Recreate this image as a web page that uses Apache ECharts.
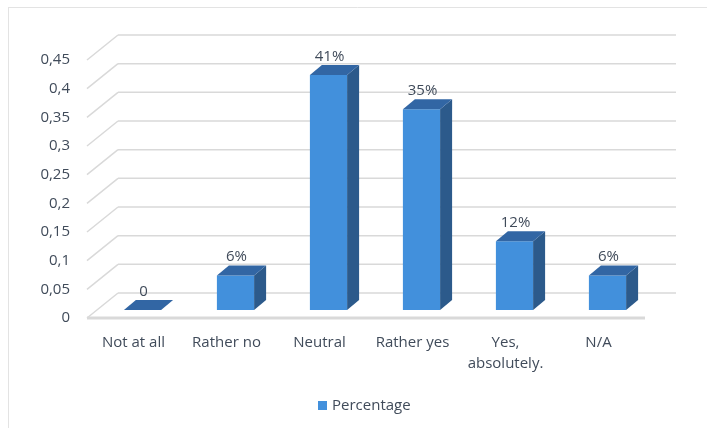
<!DOCTYPE html>
<html>
<head>
<meta charset="utf-8">
<title>Percentage</title>
<script src="https://cdn.jsdelivr.net/npm/echarts@6/dist/echarts.min.js"></script>
<style>
  html, body { margin: 0; padding: 0; background: #fff; }
  #chart { width: 707px; height: 428px; }
</style>
</head>
<body>
<div id="chart"></div>
<script>
// data
var categories = ['Not at all', 'Rather no', 'Neutral', 'Rather yes', 'Yes,\nabsolutely.', 'N/A'];
var values = [0, 0.06, 0.41, 0.35, 0.12, 0.06];
var valueLabels = ['0', '6%', '41%', '35%', '12%', '6%'];
var yTicks = [0, 0.05, 0.1, 0.15, 0.2, 0.25, 0.3, 0.35, 0.4, 0.45];

// 3d look (pixel offsets)
var WALL_DX = 31, WALL_DY = -25;   // depth of the back wall
var BAR_DX = 9, BAR_DY = -8;       // bar front face pushed back
var BAR_DEPTH_X = 12, BAR_DEPTH_Y = -10;

var font = 'Open Sans';
var fontSize = 15;
var textColor = '#404b5a';
var gridColor = '#d9d9d9';
var frontColor = '#4290dc';
var topColor = '#3266a4';
var sideColor = '#2c5a8b';

var chart = echarts.init(document.getElementById('chart'));

function renderWall(params, api) {
    var cs = params.coordSys;
    var v = api.value(1);
    var y = api.coord([0, v])[1];
    var x0 = cs.x, x1 = cs.x + cs.width;
    var children = [
        { type: 'line', shape: { x1: x0, y1: y, x2: x0 + WALL_DX, y2: y + WALL_DY },
          style: { stroke: gridColor, lineWidth: 1.5 } },
        { type: 'line', shape: { x1: x0 + WALL_DX, y1: y + WALL_DY, x2: x1 + WALL_DX, y2: y + WALL_DY },
          style: { stroke: gridColor, lineWidth: 1.5 } }
    ];
    if (v === 0) {
        // floor front edge
        children.push({ type: 'line', shape: { x1: x0, y1: y, x2: x1, y2: y },
            style: { stroke: gridColor, lineWidth: 3 } });
    }
    return { type: 'group', children: children };
}

function renderBar(params, api) {
    var i = api.value(0);
    var base = api.coord([i, 0]);
    var top = api.coord([i, api.value(1)]);
    var w = api.size([1, 0])[0] * 0.4;
    var xl = base[0] - w / 2 + BAR_DX;
    var xr = xl + w;
    var yb = base[1] + BAR_DY;
    var yt = top[1] + BAR_DY;
    var children = [];
    if (yb - yt > 0.5) {
        children.push({ type: 'rect', shape: { x: xl, y: yt, width: w, height: yb - yt },
            style: { fill: frontColor } });
        children.push({ type: 'polygon', shape: { points: [
            [xr, yt], [xr + BAR_DEPTH_X, yt + BAR_DEPTH_Y],
            [xr + BAR_DEPTH_X, yb + BAR_DEPTH_Y], [xr, yb]] },
            style: { fill: sideColor } });
    }
    children.push({ type: 'polygon', shape: { points: [
        [xl, yt], [xl + BAR_DEPTH_X, yt + BAR_DEPTH_Y],
        [xr + BAR_DEPTH_X, yt + BAR_DEPTH_Y], [xr, yt]] },
        style: { fill: topColor } });
    children.push({ type: 'text', style: {
        text: valueLabels[params.dataIndex],
        x: (xl + xr) / 2 + 1, y: yt + BAR_DEPTH_Y - 1,
        align: 'center', verticalAlign: 'bottom',
        fill: textColor, fontSize: fontSize, fontFamily: font
    } });
    return { type: 'group', children: children };
}

chart.setOption({
    animation: false,
    textStyle: { fontFamily: font },
    graphic: [
        { type: 'line', shape: { x1: 8, y1: 7.5, x2: 707, y2: 7.5 }, style: { stroke: '#e3e3e3', lineWidth: 1 } },
        { type: 'line', shape: { x1: 8.5, y1: 7, x2: 8.5, y2: 428 }, style: { stroke: '#e3e3e3', lineWidth: 1 } }
    ],
    grid: { left: 87, right: 62, top: 60, bottom: 110 },
    legend: {
        data: ['Percentage'],
        bottom: 10,
        left: 313,
        icon: 'rect',
        itemWidth: 9,
        itemHeight: 9,
        itemGap: 5,
        textStyle: { color: textColor, fontSize: fontSize, fontFamily: font }
    },
    xAxis: {
        type: 'category',
        data: categories,
        axisLine: { show: false },
        axisTick: { show: false },
        axisLabel: { color: textColor, fontSize: fontSize, fontFamily: font, margin: 14, lineHeight: 21, interval: 0 }
    },
    yAxis: {
        type: 'value',
        min: 0,
        max: 0.45,
        interval: 0.05,
        splitLine: { show: false },
        axisLine: { show: false },
        axisLabel: {
            color: textColor, fontSize: fontSize, fontFamily: font, margin: 17,
            formatter: function (v) { return String(+v.toFixed(2)).replace('.', ','); }
        }
    },
    series: [
        {
            name: 'walls',
            type: 'custom',
            renderItem: renderWall,
            data: yTicks.map(function (v) { return [0, v]; }),
            silent: true,
            z: 1
        },
        {
            name: 'Percentage',
            type: 'custom',
            renderItem: renderBar,
            itemStyle: { color: frontColor },
            data: values.map(function (v, i) { return [i, v]; }),
            z: 2
        }
    ]
});
</script>
</body>
</html>
